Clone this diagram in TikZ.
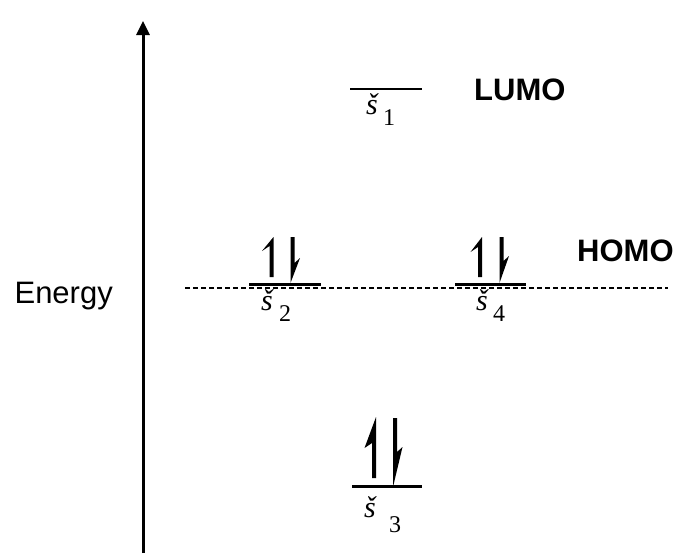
\documentclass[tikz,border=0pt]{standalone}
\usepackage{fontspec}
\setmainfont{Liberation Serif}
\newfontfamily\arialf{Liberation Sans}
\usetikzlibrary{arrows.meta}
\newcommand\upel[4]{\fill (#1+2,#3) -- (#1+2,#2) -- (#1-9.5,#2+#4) -- (#1-2,#2+#4-5) -- (#1-2,#3) -- cycle;}
\newcommand\downel[4]{\fill (#1-2,#2) -- (#1-2,#3) -- (#1+7.5,#3-#4) -- (#1+2,#3-#4+5) -- (#1+2,#2) -- cycle;}
\tikzset{
  level/.style={line width=2.8pt},
  homolevel/.style={line width=3pt},
  dashline/.style={line width=1.2pt, dash pattern=on 5pt off 3pt},
  sig/.style={inner sep=0pt, anchor=base west, font=\fontsize{30}{30}\selectfont},
  sublbl/.style={inner sep=0pt, anchor=base west, font=\fontsize{24}{24}\selectfont},
  bigsans/.style={inner sep=0pt, anchor=base west, font=\arialf\bfseries\fontsize{31}{31}\selectfont},
  plainsans/.style={inner sep=0pt, anchor=base east, font=\arialf\fontsize{31}{31}\selectfont}
}
\begin{document}
\begin{tikzpicture}[x=1pt,y=-1pt]
\useasboundingbox (0,0) rectangle (678,558);
% axis
\coordinate (axbot) at (143,553);
\coordinate (axtop) at (143,21);
\draw[line width=3pt, -{Triangle[length=14pt,width=13pt]}] (axbot) -- (axtop);
\node[plainsans] (energy) at (113,303) {Energy};
% dashed HOMO line
\coordinate (dl) at (185,288);
\coordinate (dr) at (668,288);
\draw[dashline] (dl) -- (dr);
% levels
\coordinate (l1a) at (350,89);  \coordinate (l1b) at (422,89);
\coordinate (l2a) at (249,284.5); \coordinate (l2b) at (321,284.5);
\coordinate (l4a) at (455,284.5); \coordinate (l4b) at (526,284.5);
\coordinate (l3a) at (352,486.5); \coordinate (l3b) at (422,486.5);
\draw[level] (l1a) -- (l1b);
\draw[homolevel] (l2a) -- (l2b);
\draw[homolevel] (l4a) -- (l4b);
\draw[level] (l3a) -- (l3b);
% electrons
\upel{271.5}{237}{277}{14}
\downel{292.5}{237}{283}{25}
\upel{480}{237}{277}{15}
\downel{501.5}{237}{283}{27}
\upel{374}{417}{478}{31}
\downel{395}{418}{487}{40}
% labels
\node[sig] (s1) at (366,114) {\textit{š}};
\node[sublbl] (s1n) at (383,125) {1};
\node[sig] (s2) at (261,310) {\textit{š}};
\node[sublbl] (s2n) at (279,321) {2};
\node[sig] (s4) at (476,310) {\textit{š}};
\node[sublbl] (s4n) at (493,321) {4};
\node[sig] (s3) at (364,517) {\textit{š}};
\node[sublbl] (s3n) at (389,532) {3};
\node[bigsans] (lumo) at (474,100) {LUMO};
\node[bigsans] (homo) at (577,261) {HOMO};
\end{tikzpicture}
\end{document}
